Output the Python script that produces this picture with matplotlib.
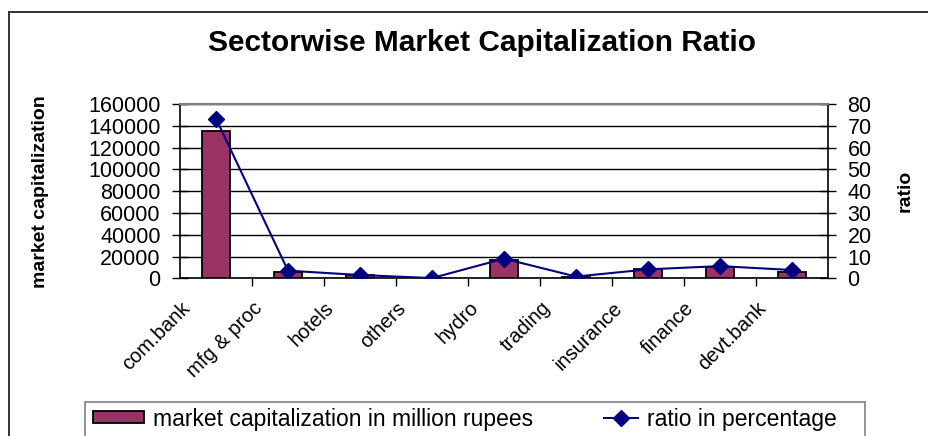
import numpy as np
import matplotlib
matplotlib.use('Agg')
import matplotlib.pyplot as plt
from matplotlib.patches import Rectangle
from matplotlib.transforms import ScaledTranslation
from matplotlib.legend_handler import HandlerLine2D

sectors = ['com.bank', 'mfg & proc', 'hotels', 'others', 'hydro',
           'trading', 'insurance', 'finance', 'devt.bank']
market_cap = [135300, 5800, 3400, 200, 16800, 1500, 8900, 10100, 6100]
ratio_pct = [73.3, 3.5, 1.5, 0.1, 9.0, 0.8, 4.1, 5.6, 3.8]
cap_ticks = [0, 20000, 40000, 60000, 80000, 100000, 120000, 140000, 160000]
ratio_ticks = [0, 10, 20, 30, 40, 50, 60, 70, 80]

plt.rcParams['font.family'] = ['Liberation Sans', 'DejaVu Sans']

W, H = 929, 436
fig = plt.figure(figsize=(W / 100, H / 100), dpi=100)


def fx(px):
    return px / W


def fy(py):
    return 1 - py / H


class ShortLine(HandlerLine2D):
    # the line sample in the source legend is shorter than the bar swatch
    def create_artists(self, legend, orig_handle, xdescent, ydescent,
                       width, height, fontsize, trans):
        cut = width * 0.33
        return super().create_artists(legend, orig_handle, xdescent - cut,
                                      ydescent, width - cut, height,
                                      fontsize, trans)


# outer chart border (right and bottom edges are cut off in the original)
fig.patches.append(Rectangle((fx(9), fy(460)), fx(960), fy(12) - fy(460),
                             transform=fig.transFigure, fill=False,
                             edgecolor='#333333', linewidth=1.4))

ax = fig.add_axes([fx(180), fy(278.3), fx(828) - fx(180), fy(104) - fy(278.3)])
x = np.arange(len(sectors))
bars = ax.bar(x, market_cap, width=0.4, color='#993366', edgecolor='black',
              linewidth=1.3, label='market capitalization in million rupees',
              zorder=3)
ax.set_xlim(-0.5, len(sectors) - 0.5)
ax.set_ylim(0, 160000)
ax.set_yticks(cap_ticks)
ax.set_yticklabels([str(v) for v in cap_ticks])
ax.grid(axis='y', color='black', linewidth=1.0, zorder=0)
ax.set_axisbelow(True)

ax.set_xticks(x)
ax.set_xticklabels(sectors, rotation=45, ha='right', va='top', fontsize=14.5)
ax.set_xticks(np.arange(0.5, len(sectors) - 0.5, 1), minor=True)
ax.tick_params(axis='x', which='major', length=0, pad=14.4)
ax.tick_params(axis='x', which='minor', length=6, width=1, direction='out')
offset = ScaledTranslation(-0.22, 0, fig.dpi_scale_trans)
for lab in ax.get_xticklabels():
    lab.set_transform(lab.get_transform() + offset)

ax.tick_params(axis='y', which='major', labelsize=15.5, length=12, width=1,
               direction='inout', pad=8)
ax.set_ylabel('market capitalization', fontsize=14, fontweight='bold')
ax.yaxis.set_label_coords(fx(49), 0.5 * (fy(104) + fy(278.3)),
                          transform=fig.transFigure)

for s in ['left', 'bottom']:
    ax.spines[s].set_color('black')
    ax.spines[s].set_linewidth(1.2)
ax.spines['top'].set_color('#808080')
ax.spines['top'].set_linewidth(1.5)
ax.spines['right'].set_visible(False)

ax2 = ax.twinx()
line, = ax2.plot(x, ratio_pct, color='#000080', linewidth=1.5, marker='D',
                 markersize=8.5, label='ratio in percentage', zorder=4)
ax2.set_ylim(0, 80)
ax2.set_yticks(ratio_ticks)
ax2.set_yticklabels([str(v) for v in ratio_ticks])
ax2.tick_params(axis='y', labelsize=15.5, length=12, width=1,
                direction='inout', pad=8)
ax2.spines['right'].set_color('black')
ax2.spines['right'].set_linewidth(1.2)
ax2.spines['top'].set_color('#808080')
ax2.spines['top'].set_linewidth(1.5)
ax2.spines['left'].set_visible(False)
ax2.spines['bottom'].set_visible(False)
ax2.set_ylabel('ratio', fontsize=14, fontweight='bold')
ax2.yaxis.set_label_coords(fx(897), 0.5 * (fy(104) + fy(278.3)),
                           transform=fig.transFigure)

fig.text(fx(482), fy(43), 'Sectorwise Market Capitalization Ratio',
         fontsize=21.5, fontweight='bold', ha='center', va='center')

# legend frame (cut off at the bottom like the source)
fig.patches.append(Rectangle((fx(85), fy(460)), fx(865) - fx(85), fy(402) - fy(460),
                             transform=fig.transFigure, fill=False,
                             edgecolor='#808080', linewidth=1.2))
fig.legend(handles=[bars, line], loc='center left',
           bbox_to_anchor=(fx(93), fy(419)), ncol=2, frameon=False,
           fontsize=16.5, borderpad=0, handlelength=2.23, handleheight=0.45,
           handletextpad=0.39, columnspacing=2.35, borderaxespad=0,
           handler_map={line: ShortLine()})

fig.savefig('out.png', dpi=100)
